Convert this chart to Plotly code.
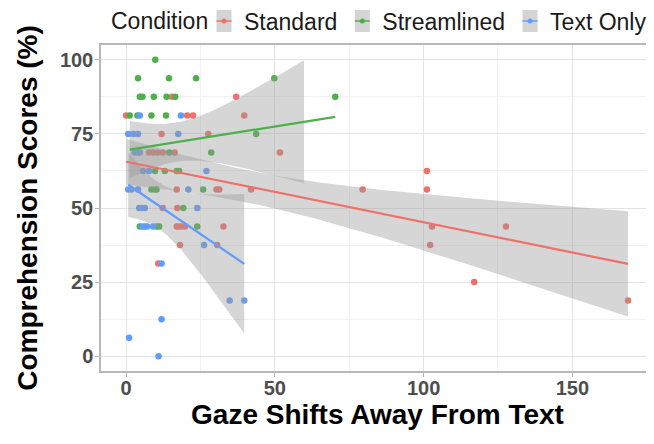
import numpy as np
import plotly.graph_objects as go

# ---------------- data ----------------
conditions = ["Standard", "Streamlined", "Text Only"]
colors = ["#F0716A", "#4DB04A", "#619CFF"]

standard_x = [0, 15.4, 37, 20.5, 22.5, 39.7, 11.9, 27.6,
              7.7, 9.1, 10.6, 12.3, 16.3, 51.7,
              17, 30.4, 31.3, 42, 79.5, 101.1, 101.1,
              12.3, 17.2,
              17, 17.8, 18.7, 19.8, 32.7, 102.8, 127.7,
              18.1, 30.6, 102.2, 10.8, 117, 168.7]
standard_y = [81.25, 87.5, 87.5, 81.25, 81.25, 81.25, 75, 75,
              68.75, 68.75, 68.75, 68.75, 68.75, 68.75,
              56.25, 56.25, 56.25, 56.25, 56.25, 56.25, 62.5,
              50, 50,
              43.75, 43.75, 43.75, 43.75, 43.75, 43.75, 43.75,
              37.5, 37.5, 37.5, 31.25, 25, 18.75]

streamlined_x = [9.8, 4, 14.4, 23.5, 49.8,
                 4.6, 5.5, 9.3, 13.6, 16.5, 70.3,
                 1.2, 3.8, 8.5, 13.4, 43.7,
                 14.5, 28.6,
                 9.7, 13, 17, 17.8,
                 8.5, 9.7, 10.2, 25.9,
                 19.2,
                 4.6, 10.2, 11.1, 23.9]
streamlined_y = [100, 93.75, 93.75, 93.75, 93.75,
                 87.5, 87.5, 87.5, 87.5, 87.5, 87.5,
                 81.25, 81.25, 81.25, 81.25, 75,
                 68.75, 68.75,
                 62.5, 62.5, 62.5, 62.5,
                 56.25, 56.25, 56.25, 56.25,
                 50,
                 43.75, 43.75, 43.75, 43.75]

textonly_x = [4.6, 18.4,
              0.7, 2.4, 4, 17.5,
              2.9, 4, 4.6,
              5.7, 7.7, 27,
              0.7, 1.8, 4, 20.9,
              4.4, 5.2, 6.3, 23.9,
              5.5, 6.3, 7.1, 9.1,
              26.2, 11.9, 34.8, 39.7, 11.9, 1, 10.9]
textonly_y = [81.25, 81.25,
              75, 75, 75, 75,
              68.75, 68.75, 68.75,
              62.5, 62.5, 62.5,
              56.25, 56.25, 56.25, 56.25,
              50, 50, 50, 50,
              43.75, 43.75, 43.75, 43.75,
              37.5, 31.25, 18.75, 18.75, 12.5, 6.25, 0]

series_x = [standard_x, streamlined_x, textonly_x]
series_y = [standard_y, streamlined_y, textonly_y]

x_ticks = [0, 50, 100, 150]
y_ticks = [0, 25, 50, 75, 100]
y_limits = [0, 100]      # scale limits: ribbon parts outside are dropped (as in ggplot)


# ---------------- linear fit with 95% confidence band ----------------
def t975(df):
    z = 1.959963985
    return (z + (z**3 + z) / (4 * df)
            + (5 * z**5 + 16 * z**3 + 3 * z) / (96 * df**2)
            + (3 * z**7 + 19 * z**5 + 17 * z**3 - 15 * z) / (384 * df**3))


def lm_band(x, y, n_grid=80):
    x = np.asarray(x, float)
    y = np.asarray(y, float)
    n = len(x)
    xm = x.mean()
    sxx = ((x - xm) ** 2).sum()
    b1 = ((x - xm) * (y - y.mean())).sum() / sxx
    b0 = y.mean() - b1 * xm
    resid = y - (b0 + b1 * x)
    s = np.sqrt((resid ** 2).sum() / (n - 2))
    grid = np.linspace(x.min(), x.max(), n_grid)
    fit = b0 + b1 * grid
    se = s * np.sqrt(1 / n + (grid - xm) ** 2 / sxx)
    t = t975(n - 2)
    return grid, fit, fit - t * se, fit + t * se


fig = go.Figure()

# points (drawn first so the ribbons sit on top, like ggplot)
for name, col, xs, ys in zip(conditions, colors, series_x, series_y):
    fig.add_trace(go.Scatter(x=xs, y=ys, mode="markers", name=name,
                             marker=dict(color=col, size=6.5),
                             showlegend=False, hoverinfo="x+y"))

fits = [lm_band(xs, ys) for xs, ys in zip(series_x, series_y)]

for (g, f, lo, hi) in fits:
    keep = (hi <= y_limits[1]) & (lo >= y_limits[0])
    gk, lk, hk = g[keep], lo[keep], hi[keep]
    fig.add_trace(go.Scatter(x=np.concatenate([gk, gk[::-1]]),
                             y=np.concatenate([hk, lk[::-1]]),
                             fill="toself", fillcolor="rgba(153,153,153,0.4)",
                             line=dict(width=0), mode="lines",
                             showlegend=False, hoverinfo="skip"))

for name, col, (g, f, lo, hi) in zip(conditions, colors, fits):
    fig.add_trace(go.Scatter(x=g, y=f, mode="lines",
                             line=dict(color=col, width=2.2),
                             showlegend=False, hoverinfo="skip"))

# legend entries (marker only; the key's grey box and short line are shapes)
for name, col in zip(conditions, colors):
    fig.add_trace(go.Scatter(x=[None], y=[None], mode="markers", name=name,
                             marker=dict(color=col, size=5)))

# ---------------- layout (figure is offset 8px by the page body margin) ----------------
FIG_W, FIG_H = 646, 436
ML, MR, MT, MB = 93, 0, 37, 73
PW, PH = FIG_W - ML - MR, FIG_H - MT - MB


def px_to_paper_x(px):
    return (px - ML) / PW


def px_to_paper_y(py):
    return (FIG_H - MB - py) / PH


FONT = "Liberation Sans, Arial, sans-serif"
grid_c = "#E3E3E3"
minor_c = "#F1F1F1"
border_c = "#B8B8B8"

LEG_ITEM0 = 196          # figure px where the first legend item starts
LEG_Y = 13               # figure px of legend centre line
text_w = [93.3, 122.7, 98.4]
item_starts = [LEG_ITEM0]
for w in text_w[:-1]:
    item_starts.append(item_starts[-1] + 40 + w + 5)

shapes = []
for start, col in zip(item_starts, colors):
    cx = start + 20
    shapes.append(dict(type="rect", xref="paper", yref="paper", layer="above",
                       x0=px_to_paper_x(cx - 7.5), x1=px_to_paper_x(cx + 7.5),
                       y0=px_to_paper_y(LEG_Y + 11), y1=px_to_paper_y(LEG_Y - 11),
                       fillcolor="#D4D4D4", line=dict(width=0)))
    shapes.append(dict(type="line", xref="paper", yref="paper", layer="above",
                       x0=px_to_paper_x(cx - 7.5), x1=px_to_paper_x(cx + 7.5),
                       y0=px_to_paper_y(LEG_Y), y1=px_to_paper_y(LEG_Y),
                       line=dict(color=col, width=1.5)))

fig.update_layout(
    width=FIG_W, height=FIG_H, autosize=False,
    margin=dict(l=ML, r=MR, t=MT, b=MB, autoexpand=False),
    paper_bgcolor="white", plot_bgcolor="white",
    font=dict(family=FONT, color="#1A1A1A"),
    shapes=shapes,
    annotations=[dict(text="Condition", xref="paper", yref="paper",
                      x=px_to_paper_x(101), y=px_to_paper_y(LEG_Y),
                      xanchor="left", yanchor="middle", showarrow=False,
                      font=dict(size=23, color="#1A1A1A", family=FONT))],
    legend=dict(orientation="h", xref="container", yref="container",
                x=LEG_ITEM0 / FIG_W, xanchor="left", y=1 - LEG_Y / FIG_H, yanchor="middle",
                font=dict(size=23, color="#1A1A1A"), bgcolor="rgba(0,0,0,0)",
                itemclick=False),
    xaxis=dict(range=[-8.45, 177.45], tickvals=x_ticks, zeroline=False, automargin=False,
               showgrid=True, gridcolor=grid_c, gridwidth=1,
               minor=dict(dtick=25, tick0=0, showgrid=True, gridcolor=minor_c, gridwidth=1),
               showline=True, mirror=True, linecolor=border_c, linewidth=1.5,
               ticks="outside", ticklen=4, tickcolor=border_c, tickwidth=1.2,
               ticklabelstandoff=-6,
               tickfont=dict(size=20, color="#4D4D4D", family=FONT, weight="bold"),
               title=dict(text="Gaze Shifts Away From Text", standoff=4,
                          font=dict(size=28, color="black", family=FONT, weight="bold"))),
    yaxis=dict(range=[-5, 105], tickvals=y_ticks, zeroline=False, automargin=False,
               showgrid=True, gridcolor=grid_c, gridwidth=1,
               minor=dict(dtick=12.5, tick0=0, showgrid=True, gridcolor=minor_c, gridwidth=1),
               showline=True, mirror=True, linecolor=border_c, linewidth=1.5,
               ticks="outside", ticklen=4, tickcolor=border_c, tickwidth=1.2,
               ticklabelstandoff=-2,
               tickfont=dict(size=20, color="#4D4D4D", family=FONT, weight="bold"),
               title=dict(text="Comprehension Scores (%)", standoff=14,
                          font=dict(size=28, color="black", family=FONT, weight="bold"))),
)

fig.write_html("out.html")
